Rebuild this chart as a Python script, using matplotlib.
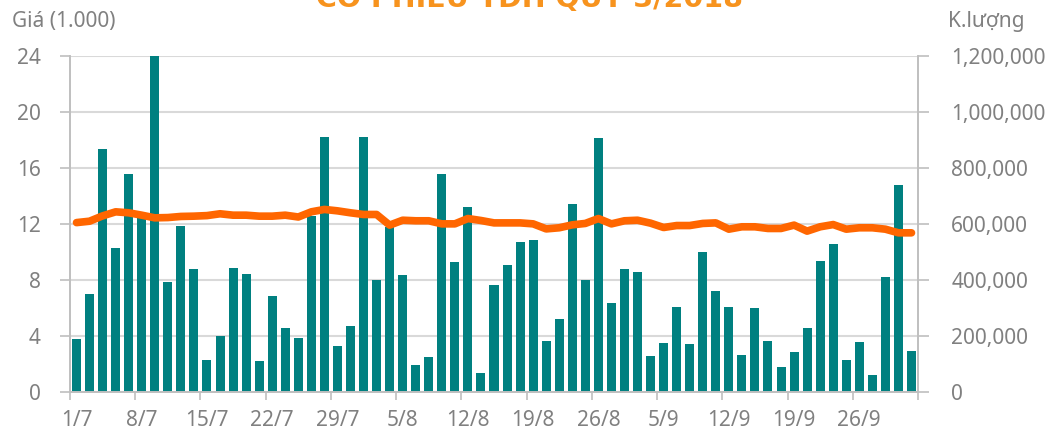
import matplotlib
matplotlib.use("Agg")
import matplotlib.pyplot as plt
import numpy as np

plt.rcParams['font.family'] = ['Noto Sans', 'DejaVu Sans']

volume = [188000, 349000, 868000, 514000, 778000, 625000, 1200000, 392000, 592000, 439000,
          113000, 199000, 442000, 421000, 110000, 342000, 228000, 192000, 629000, 910000,
          163000, 235000, 910000, 399000, 590000, 417000, 95000, 124000, 778000, 464000,
          660000, 67000, 381000, 453000, 535000, 542000, 181000, 260000, 671000, 399000,
          907000, 317000, 439000, 428000, 128000, 174000, 303000, 170000, 499000, 360000,
          303000, 131000, 299000, 181000, 88000, 142000, 228000, 467000, 528000, 113000,
          178000, 60000, 410000, 739000, 145000]

price = [12.10, 12.20, 12.58, 12.87, 12.80, 12.63, 12.44, 12.46, 12.54, 12.56,
         12.60, 12.73, 12.63, 12.63, 12.56, 12.56, 12.63, 12.50, 12.87, 13.04,
         12.94, 12.80, 12.68, 12.68, 11.92, 12.27, 12.23, 12.23, 12.01, 12.01,
         12.39, 12.25, 12.08, 12.08, 12.08, 12.01, 11.65, 11.73, 11.94, 12.04,
         12.39, 12.01, 12.23, 12.27, 12.06, 11.75, 11.89, 11.89, 12.04, 12.08,
         11.63, 11.80, 11.80, 11.68, 11.68, 11.92, 11.49, 11.80, 11.96, 11.63,
         11.73, 11.73, 11.63, 11.37, 11.37]

tick_labels = ['1/7', '8/7', '15/7', '22/7', '29/7', '5/8', '12/8', '19/8',
               '26/8', '5/9', '12/9', '19/9', '26/9']

title = 'CỔ PHIẾU TDH QUÝ 3/2018'

gray = '#808080'
spine = '#BFBFBF'

fig = plt.figure(figsize=(10.53, 4.41), dpi=100)
L, R, B, T = 70 / 1053, 918 / 1053, 1 - 392 / 441, 1 - 56 / 441
ax2 = fig.add_axes([L, B, R - L, T - B])
ax = ax2.twinx()
ax.set_zorder(ax2.get_zorder() + 1)
ax.patch.set_visible(False)

n = len(volume)
x = np.arange(n)
ax2.bar(x, volume, width=0.69, color='#008080', zorder=2)
ax2.set_ylim(0, 1200000)
ax2.set_yticks(np.arange(0, 1200001, 200000))
ax2.yaxis.tick_right()
ax2.yaxis.set_label_position('right')
ax2.set_yticklabels([f'{v:,}' for v in range(0, 1200001, 200000)])
ax2.grid(axis='y', color='#D9D9D9', linewidth=1.5, zorder=0)
ax2.set_axisbelow(True)

ax.plot(x, price, color='#FF6600', linewidth=5.5, solid_joinstyle='round',
        solid_capstyle='round', zorder=3)
ax.set_ylim(0, 24)
ax.set_yticks(np.arange(0, 25, 4))
ax.yaxis.tick_left()

ax.set_xlim(-0.5, n - 0.5)
ax2.set_xlim(-0.5, n - 0.5)
ax2.set_xticks(np.arange(0, 65, 5))
ax2.set_xticklabels(tick_labels)
ax2.set_xticks(np.arange(-0.5, n, 5), minor=True)
ax2.tick_params(axis='x', which='major', length=0, pad=13, labelsize=15, colors=gray)
ax2.tick_params(axis='x', which='minor', length=6, width=1.2, color=spine)
ax2.tick_params(axis='y', length=8, width=1.2, color=spine, labelsize=15,
                labelcolor=gray, pad=16)
ax.tick_params(axis='y', length=7, width=1.2, color=spine, labelsize=15,
               labelcolor=gray, pad=14, left=True, right=False, labelleft=True, labelright=False)

for a in (ax, ax2):
    a.spines['top'].set_visible(False)
    for s in ('left', 'right', 'bottom'):
        a.spines[s].set_color(spine)
        a.spines[s].set_linewidth(1.2)

fig.text(12 / 1053, 1 - 21 / 441, 'Giá (1.000)', fontsize=15, color=gray,
         ha='left', va='center')
fig.text(948 / 1053, 1 - 21 / 441, 'K.lượng', fontsize=15, color=gray,
         ha='left', va='center')
fig.text(530 / 1053, 1 - 7 / 441, title, fontsize=20.5, fontweight='bold',
         family=['DejaVu Sans'], color='#F7931E', ha='center', va='baseline')

fig.savefig('out.png', dpi=100)
